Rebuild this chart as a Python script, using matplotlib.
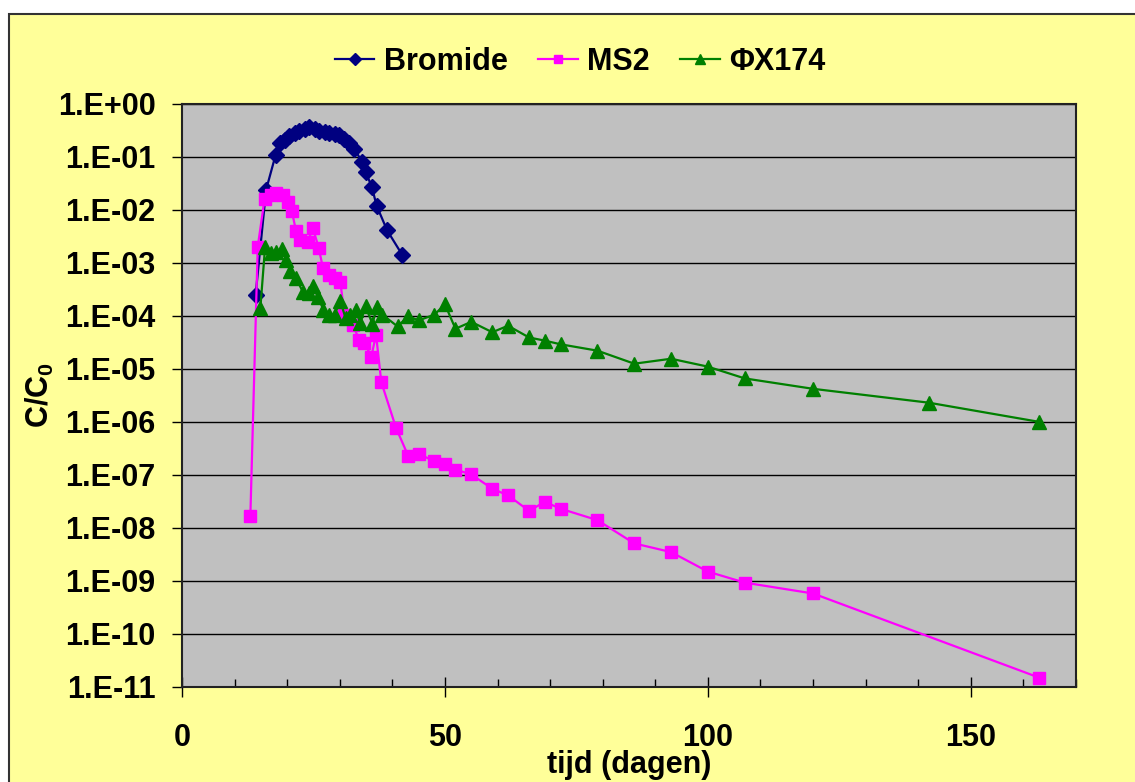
import numpy as np
import matplotlib
matplotlib.use("Agg")
import matplotlib.pyplot as plt
from matplotlib.patches import Rectangle
from matplotlib.ticker import FixedLocator, FuncFormatter, MultipleLocator

plt.rcParams['font.family'] = ['Liberation Sans', 'DejaVu Sans']
plt.rcParams['mathtext.fontset'] = 'custom'
plt.rcParams['mathtext.bf'] = 'Liberation Sans:bold'
plt.rcParams['mathtext.rm'] = 'Liberation Sans'

# Bromide tracer
t_br = [14, 16, 17.8, 18.6, 19.5, 20.4, 21.4, 22.3, 23.3, 24.2, 25.2, 26.1, 27.1,
        28.0, 29.0, 29.9, 30.9, 31.8, 32.8, 34.2, 34.9, 36.1, 37.0, 39.0, 41.9]
c_br = [2.5e-4, 0.024, 0.108, 0.18, 0.21, 0.25, 0.28, 0.31, 0.33, 0.36, 0.34, 0.31, 0.29,
        0.28, 0.27, 0.26, 0.22, 0.18, 0.14, 0.081, 0.052, 0.027, 0.012, 0.0041, 0.0014]

# MS2 virus
t_ms2 = [13, 14.4, 15.7, 17.0, 17.9, 19.2, 20.1, 20.9, 21.7, 22.5, 23.9, 24.9, 26.0,
         26.8, 28.0, 29.0, 30.1, 30.9, 32.5, 33.7, 34.7, 36.0, 36.9, 37.9, 40.7,
         43, 45, 48, 50, 52, 55, 59, 62, 66, 69, 72, 79, 86, 93, 100, 107, 120, 163]
c_ms2 = [1.7e-8, 2.0e-3, 0.016, 0.019, 0.021, 0.019, 0.014, 0.0093, 0.0039, 0.0027, 0.0025,
         0.0045, 0.0019, 8e-4, 5.9e-4, 5.1e-4, 4.4e-4, 1.05e-4, 6.8e-5, 3.5e-5, 3.1e-5,
         1.7e-5, 4.4e-5, 5.6e-6, 7.7e-7, 2.3e-7, 2.5e-7, 1.8e-7, 1.6e-7, 1.26e-7, 1.02e-7,
         5.5e-8, 4.1e-8, 2.1e-8, 3.1e-8, 2.3e-8, 1.4e-8, 5.1e-9, 3.5e-9, 1.5e-9, 9.3e-10,
         5.8e-10, 1.5e-11]

# PhiX174 virus
t_phi = [14.9, 15.8, 16.9, 17.9, 19.0, 19.8, 20.6, 21.7, 23.0, 24.1, 25.0, 25.8, 26.9,
         28.0, 29.0, 30.1, 31.1, 32.0, 33.0, 33.9, 34.9, 36.2, 37.1, 38.1, 41, 43, 45,
         48, 50, 52, 55, 59, 62, 66, 69, 72, 79, 86, 93, 100, 107, 120, 142, 163]
c_phi = [1.4e-4, 2.0e-3, 1.5e-3, 1.6e-3, 1.8e-3, 1.15e-3, 6.9e-4, 5.1e-4, 2.8e-4, 2.7e-4,
         3.6e-4, 2.3e-4, 1.3e-4, 1.05e-4, 1.05e-4, 1.9e-4, 9.1e-5, 1.05e-4, 1.3e-4, 7.3e-5,
         1.5e-4, 7.1e-5, 1.47e-4, 1.05e-4, 6.3e-5, 9.8e-5, 8.2e-5, 1.05e-4, 1.65e-4, 5.7e-5,
         7.7e-5, 4.9e-5, 6.5e-5, 3.9e-5, 3.4e-5, 2.9e-5, 2.2e-5, 1.25e-5, 1.55e-5, 1.1e-5,
         6.6e-6, 4.2e-6, 2.3e-6, 1.0e-6]

fig = plt.figure(figsize=(11.35, 7.82), dpi=100, facecolor='white')
W, H = 1135, 782
# yellow chart area with border
fig.patches.append(Rectangle((9 / W, -0.05), 1.1, 1 - 14 / H + 0.05,
                             transform=fig.transFigure, facecolor='#FFFF99',
                             edgecolor='#333333', linewidth=1.5, zorder=-10))

ax = fig.add_axes([182 / W, 1 - 687 / H, (1076 - 182) / W, (687 - 103.7) / H])
ax.set_facecolor('#C0C0C0')

ax.plot(t_br, c_br, color='#000080', marker='D', markersize=8, lw=1.6, label='Bromide')
ax.plot(t_ms2, c_ms2, color='#FF00FF', marker='s', markersize=8.5, lw=1.6, label='MS2')
ax.plot(t_phi, c_phi, color='#008000', marker='^', markersize=10, lw=1.6, label='ΦX174')

ax.set_yscale('log')
ax.set_ylim(1e-11, 1)
ax.set_xlim(0, 170)
ax.yaxis.set_major_locator(FixedLocator([10.0 ** k for k in range(-11, 1)]))
ax.yaxis.set_minor_locator(FixedLocator([]))
ax.yaxis.set_major_formatter(FuncFormatter(lambda v, p: "1.E%+03d" % int(round(np.log10(v)))))
ax.xaxis.set_major_locator(MultipleLocator(50))
ax.xaxis.set_minor_locator(MultipleLocator(10))
ax.grid(axis='y', which='major', color='black', lw=1.0)
ax.set_axisbelow(True)

for s in ax.spines.values():
    s.set_color('#222222')
    s.set_linewidth(1.5)

ax.tick_params(axis='y', which='major', direction='out', length=7, width=1, pad=12,
               labelsize=22, colors='black')
ax.tick_params(axis='x', which='major', direction='inout', length=14, width=1, pad=19,
               labelsize=22)
ax.tick_params(axis='x', which='minor', direction='in', length=6, width=1)
for lab in ax.get_xticklabels() + ax.get_yticklabels():
    lab.set_fontweight('bold')

ax.set_xlabel('tijd (dagen)', fontsize=22, fontweight='bold', labelpad=-2)
ax.set_ylabel(r'$\mathbf{C/C_0}$', fontsize=22, labelpad=1)

fig.legend(loc='center', bbox_to_anchor=(580 / W, 1 - 62 / H), ncol=3, frameon=False,
           prop={'weight': 'bold', 'size': 22}, handlelength=1.3, handletextpad=0.3,
           columnspacing=1.0, markerscale=0.75)

fig.savefig('out.png', dpi=100)
